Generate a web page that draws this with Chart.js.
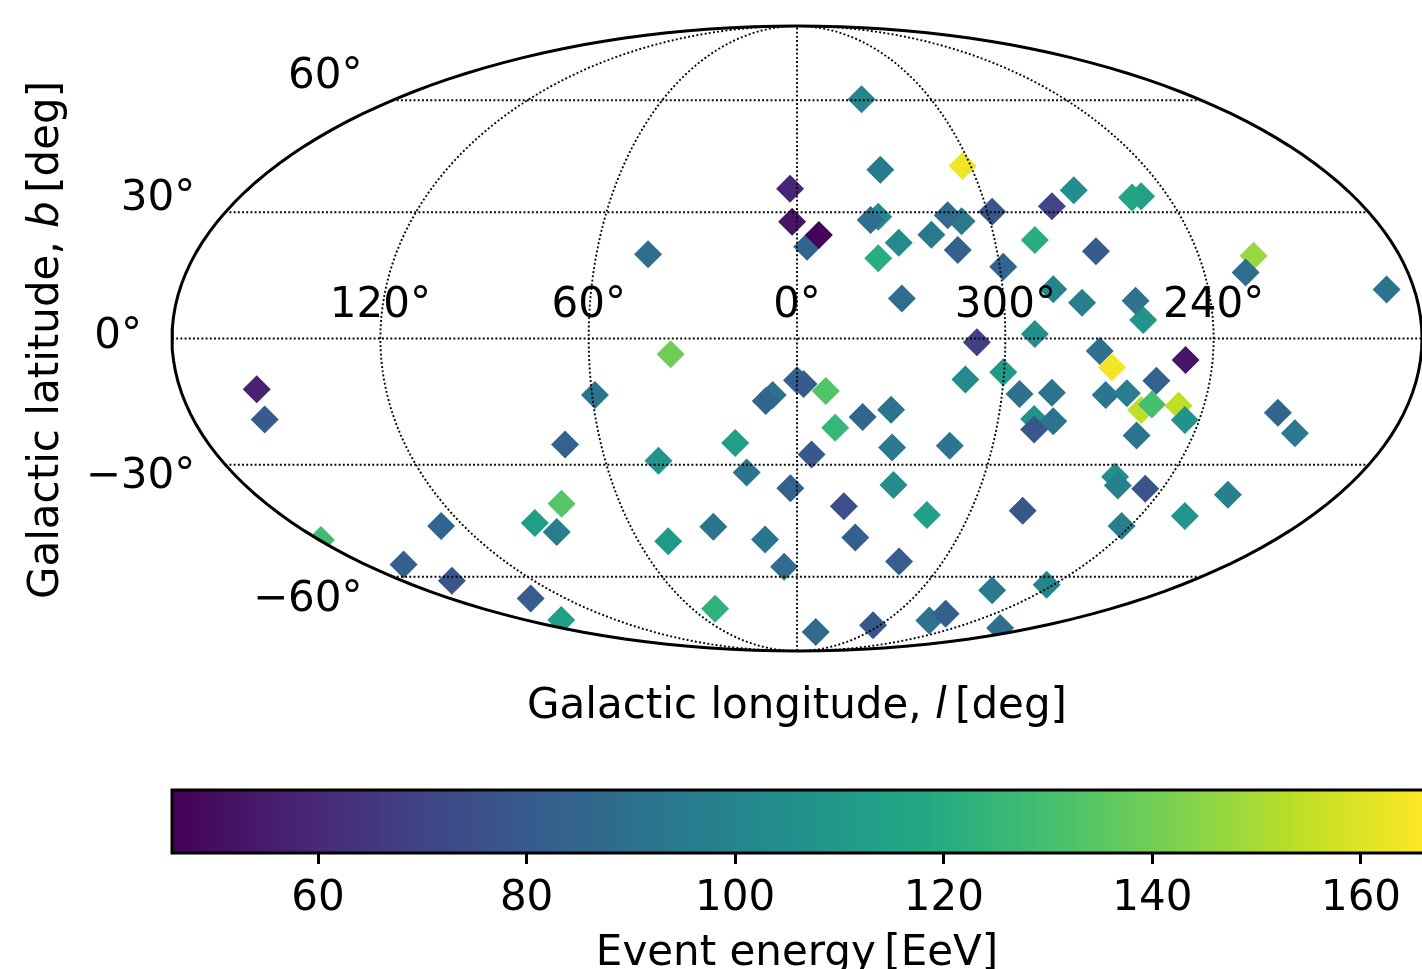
<!DOCTYPE html>
<html>
<head>
<meta charset="utf-8">
<title>Event map</title>
<script src="https://cdn.jsdelivr.net/npm/chart.js@4"></script>
<style>
  body { margin: 0; background: #fff; overflow: hidden; }
  canvas { position: absolute; left: 0; }
  #mapa { top: 0; }
  #barra { top: 770px; }
</style>
</head>
<body>
<canvas id="mapa" width="1422" height="969"></canvas>
<canvas id="barra" width="1422" height="199"></canvas>
<script>
// positions: x -180..180, y -90..90
const eventX = [-155.6,-153.3,-137.1,-102.5,-113.3,-99.4,-76.7,-67.8,-75.5,-69.2,-67.9,-66.8,-36.4,-58.2,0,1.9,8.3,-7,-9,48.5,51.8,11,18.9,27.1,-17.8,-39.9,-14.5,4.2,27.4,44,-1.9,27.8,13.5,37.4,16.8,-37.1,-24.1,-9.2,-3.7,29.4,-23.6,5.4,21.9,38.1,42.8,56.2,58.5,59.4,64.1,73.4,68.3,73.8,68.3,87.2,90.7,111.9,103.5,88.9,95,99.1,102.2,109.9,111.7,97.8,138.5,143.4,91.6,92.4,100.3,124.1,65,111.7,93.5,71.9,18.6,24,47.7,-2,-1.4,2.9,6.3,-42.9,23.4,21.2,29.3,23.4,38.7,47.4,43.4,46.3,56.2,59.4,30.2,79.7,73.4,99.1,96.5,68.5,86.1,131.5,129.2,169.8,73.8,82.1,99.7,97.5,68.5];
const eventY = [-14.6,-23.3,-58,-54,-65.1,-69.8,-74.9,-47.6,-53.1,-55.7,-81.1,-30.5,-4.5,-16.3,-12,-13.1,-15.1,-16.3,-18,-11.8,-1.1,-25.7,-22.6,-20.5,-30.1,-35.2,-38.6,-33.4,-31.4,-30.9,-43.1,-42.2,-48.3,-50.8,-57.3,-58.4,-54.2,-57.9,-65.7,-64.2,-77.8,-84.5,-82.6,-81.2,-79.3,-72.5,-83.4,-9.7,-16,-15.6,-23.2,-23.8,-26.2,-3.6,-8.3,-6.2,-12.2,-16.3,-15.8,-20.6,-19,-19.4,-23.5,-27.9,-21.4,-27.3,-39.8,-42.3,-43.3,-45,-49.6,-51.1,-54,-70.9,68.9,48.6,49.7,43.1,33.6,26.4,29.8,24.3,35.1,34.1,27.6,23.1,29.9,33.8,35.5,25.5,36.5,20.7,11.5,42.7,38.1,41,40.6,28.4,25.1,23.8,19,14.1,14.2,10.3,5.3,10.9,1.3];
const eventEnergy = [57,80,129,85,82,78,81,134,112,97,113,84,139,92,84,80,133,92,85,103,68,125,85,92,112,108,92,79,95,93,84,104,75,113,82,110,92,93,88,81,123,87,79,91,82,95,90,110,90,92,107,92,79,90,164,53,84,93,97,154,130,154,107,92,85,95,105,98,77,98,78,108,97,100,100,95,163,58,52,85,47,88,103,90,103,120,94,94,88,82,78,85,88,105,70,114,116,120,80,147,88,92,100,97,108,91,105];

const latTicks = [60, 30, 0, -30, -60];
const latLabels = ["60°", "30°", "0°", "−30°", "−60°"];
const lonTicks = [120, 60, 0, 300, 240];
const lonLabels = ["120°", "60°", "0°", "300°", "240°"];
const energyTicks = [60, 80, 100, 120, 140, 160];
const energyMin = 46;
const energyMax = 165.85;

const viridis = ["#440154", "#482475", "#414487", "#355f8d", "#2a788e", "#21918c", "#22a884", "#44bf70", "#7ad151", "#bddf26", "#fde725"];

const fuente = '"DejaVu Sans"';
const tamano = 42;

const colorDeEnergia = (e) => {
  const t = Math.min(Math.max((e - energyMin) / (energyMax - energyMin), 0), 1) * (viridis.length - 1);
  const i = Math.min(Math.floor(t), viridis.length - 2);
  const a = parseInt(viridis[i].slice(1), 16);
  const b = parseInt(viridis[i + 1].slice(1), 16);
  const mezcla = (s) => Math.round(((a >> s) & 255) * (1 - t + i) + ((b >> s) & 255) * (t - i));
  return `rgb(${mezcla(16)}, ${mezcla(8)}, ${mezcla(0)})`;
};

// Mollweide auxiliary angle
const thetaDeLat = (lat) => {
  const objetivo = Math.PI * Math.sin(lat * Math.PI / 180);
  let th = lat * Math.PI / 180;
  for (let n = 0; n < 60; n++) {
    const d = 2 + 2 * Math.cos(2 * th);
    if (d < 1e-6) break;
    th -= (2 * th + Math.sin(2 * th) - objetivo) / d;
  }
  return th;
};

const lonPlano = (l) => (l > 180 ? 360 - l : -l);

const meridiano = (l) => {
  const puntos = [];
  for (let g = -90; g <= 90; g += 2) {
    const th = g * Math.PI / 180;
    puntos.push({ x: lonPlano(l) * Math.cos(th), y: 90 * Math.sin(th) });
  }
  return puntos;
};

const paralelo = (lat) => {
  const th = thetaDeLat(lat);
  const ancho = 180 * Math.cos(th);
  return [{ x: -ancho, y: 90 * Math.sin(th) }, { x: ancho, y: 90 * Math.sin(th) }];
};

const contorno = [];
for (let g = 0; g <= 360; g += 2) {
  const th = g * Math.PI / 180;
  contorno.push({ x: 180 * Math.cos(th), y: 90 * Math.sin(th) });
}

const lineaPunteada = (data) => ({
  data, showLine: true, pointRadius: 0, fill: false, clip: false,
  borderColor: "#000", borderWidth: 1.9, borderDash: [1.9, 2.3]
});

const datasetsMapa = [
  { data: contorno, showLine: true, pointRadius: 0, fill: false, clip: false, borderColor: "#000", borderWidth: 3 },
  ...lonTicks.map(l => lineaPunteada(meridiano(l))),
  ...latTicks.map(b => lineaPunteada(paralelo(b))),
  {
    label: "eventos",
    data: eventX.map((x, i) => ({ x, y: eventY[i] })),
    pointStyle: "rectRot",
    pointRadius: 14,
    pointBorderWidth: 0,
    pointBackgroundColor: eventEnergy.map(colorDeEnergia),
    clip: false
  }
];

const textoMixto = (ctx, partes, cx, y) => {
  let total = 0;
  partes.forEach(p => {
    ctx.font = `${p.italica ? "italic " : ""}${tamano}px ${fuente}`;
    total += ctx.measureText(p.t).width;
  });
  let x = cx - total / 2;
  ctx.textAlign = "left";
  partes.forEach(p => {
    ctx.font = `${p.italica ? "italic " : ""}${tamano}px ${fuente}`;
    ctx.fillText(p.t, x, y);
    x += ctx.measureText(p.t).width;
  });
};

const recorteElipse = {
  id: "recorteElipse",
  beforeDatasetDraw(chart, args) {
    if (args.index === 0) return;
    const { ctx, scales } = chart;
    ctx.save();
    ctx.beginPath();
    ctx.ellipse(scales.x.getPixelForValue(0), scales.y.getPixelForValue(0),
      (scales.x.right - scales.x.left) / 2, (scales.y.bottom - scales.y.top) / 2, 0, 0, 2 * Math.PI);
    ctx.clip();
  },
  afterDatasetDraw(chart, args) {
    if (args.index !== 0) chart.ctx.restore();
  }
};

const etiquetasMapa = {
  id: "etiquetasMapa",
  afterDraw(chart) {
    const { ctx, scales } = chart;
    const desplazaLat = [-12, -2, 9, 23, 34];
    ctx.save();
    ctx.fillStyle = "#000";
    ctx.textBaseline = "alphabetic";
    ctx.font = `${tamano}px ${fuente}`;
    ctx.textAlign = "right";
    latTicks.forEach((b, i) => {
      const p = paralelo(b)[0];
      ctx.fillText(latLabels[i], scales.x.getPixelForValue(p.x) - 30, scales.y.getPixelForValue(p.y) + desplazaLat[i]);
    });
    ctx.textAlign = "center";
    lonTicks.forEach((l, i) => {
      ctx.fillText(lonLabels[i], scales.x.getPixelForValue(lonPlano(l)), scales.y.getPixelForValue(0) - 22);
    });
    textoMixto(ctx, [{ t: "Galactic longitude, " }, { t: "l", italica: true }, { t: "\u2009[deg]" }], scales.x.getPixelForValue(0), 718);
    ctx.translate(58, 340);
    ctx.rotate(-Math.PI / 2);
    textoMixto(ctx, [{ t: "Galactic latitude, " }, { t: "b", italica: true }, { t: "\u2009[deg]" }], 0, 0);
    ctx.restore();
  }
};

new Chart(document.getElementById("mapa"), {
  type: "scatter",
  data: { datasets: datasetsMapa },
  plugins: [recorteElipse, etiquetasMapa],
  options: {
    responsive: false,
    animation: false,
    layout: { autoPadding: false, padding: { left: 172, right: 0, top: 26, bottom: 318 } },
    plugins: { legend: { display: false }, tooltip: { enabled: false } },
    scales: {
      x: { type: "linear", min: -180, max: 180, display: false },
      y: { type: "linear", min: -90, max: 90, display: false }
    }
  }
});

const bordeBarra = {
  id: "bordeBarra",
  afterDatasetsDraw(chart) {
    const { ctx, chartArea } = chart;
    ctx.save();
    ctx.strokeStyle = "#000";
    ctx.lineWidth = 3;
    ctx.strokeRect(chartArea.left, chartArea.top, chartArea.right - chartArea.left + 3, chartArea.bottom - chartArea.top);
    ctx.restore();
  }
};

new Chart(document.getElementById("barra"), {
  type: "scatter",
  data: {
    datasets: [{
      data: [{ x: energyMin, y: 1 }, { x: energyMax, y: 1 }],
      showLine: true,
      pointRadius: 0,
      borderWidth: 0,
      fill: "start",
      backgroundColor(context) {
        const area = context.chart.chartArea;
        if (!area) return "#21918c";
        const g = context.chart.ctx.createLinearGradient(area.left, 0, area.right, 0);
        viridis.forEach((c, i) => g.addColorStop(i / (viridis.length - 1), c));
        return g;
      }
    }]
  },
  plugins: [bordeBarra],
  options: {
    responsive: false,
    animation: false,
    layout: { autoPadding: false, padding: { left: 172, right: 0, top: 20, bottom: 0 } },
    plugins: { legend: { display: false }, tooltip: { enabled: false } },
    scales: {
      x: {
        type: "linear",
        min: energyMin,
        max: energyMax,
        afterBuildTicks(scale) { scale.ticks = energyTicks.map(value => ({ value })); },
        afterFit(scale) { scale.height = 116; },
        grid: { drawOnChartArea: false, drawTicks: true, tickLength: 11, tickWidth: 3, tickColor: "#000" },
        border: { display: false },
        ticks: { color: "#000", maxRotation: 0, padding: 14, font: { family: fuente, size: tamano, lineHeight: 1 } },
        title: { display: true, text: "Event energy\u2009[EeV]", color: "#000", padding: { top: 0, bottom: -6 }, font: { family: fuente, size: tamano, lineHeight: 1 } }
      },
      y: { type: "linear", min: 0, max: 1, display: false }
    }
  }
});
</script>
</body>
</html>
